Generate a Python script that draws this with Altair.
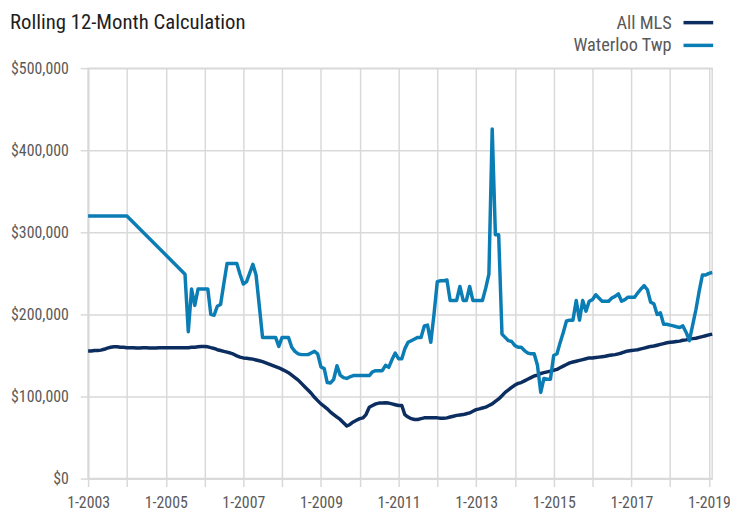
import altair as alt
import pandas as pd

# Monthly dates, Jan 2003 .. Feb 2019
months = pd.date_range("2003-01-01", "2019-02-01", freq="MS")

# All MLS rolling 12-month median price (thousands of $)
mls_values = [
    155.5, 155.5, 156, 156, 156.5, 157.5, 159, 160, 160.5, 160.5, 160, 160,          # 2003
    159.5, 159.5, 159.5, 159, 159, 159.5, 159.5, 159, 159, 159, 159.5, 159.5,        # 2004
    159.5, 159.5, 159.5, 159.5, 159.5, 159.5, 159.5, 159.5, 160, 160, 160.5, 161,    # 2005
    161, 160.5, 159.5, 158.5, 157, 156, 155, 154, 153, 151.5, 149.5, 148,            # 2006
    147, 146.5, 146, 145.5, 144.5, 143.5, 142.5, 141, 139.5, 138, 136.5, 135,        # 2007
    133, 131, 129, 126, 123, 120, 116, 112, 108, 104, 99, 95,                        # 2008
    91, 88, 85, 81, 78, 75, 72, 68, 64, 66, 69, 71,                                  # 2009
    73, 74, 78, 87, 89, 91, 92, 92, 92.5, 92, 91, 90,                                # 2010
    89, 89, 78, 75, 73, 72, 72, 73, 74, 74, 74, 74,                                  # 2011
    74, 73.5, 73.5, 74, 75, 76, 77, 77.5, 78, 79, 80, 82,                            # 2012
    84, 85, 86, 87, 89, 91, 94, 97, 101, 105, 108, 111,                              # 2013
    114, 116, 117, 119, 121, 123, 125, 126, 128, 129, 130, 131,                      # 2014
    132, 133, 135, 137, 139, 141, 142, 143, 144, 145, 146, 147,                      # 2015
    147, 147.5, 148, 148.5, 149, 150, 150.5, 151, 152, 153, 154.5, 155.5,            # 2016
    156, 156.5, 157, 158, 159, 160, 161, 161.5, 162.5, 163.5, 164.5, 165.5,          # 2017
    166, 166.5, 167, 167.5, 168.5, 169, 170, 170.5, 171, 172, 173, 174,              # 2018
    175, 176,                                                                        # 2019
]

# Waterloo Twp rolling 12-month median price (thousands of $); None = no data
waterloo_values = [
    320, 320, 320, 320, 320, 320, 320, 320, 320, 320, 320, 320,                      # 2003
    320, None, None, None, None, None, None, None, None, None, None, None,           # 2004
    None, None, None, None, None, None, 249, 179, 231, 211, 231, 231,                # 2005
    231, 231, 200, 199, 210, 212, 237, 262, 262, 262, 262, 249,                      # 2006
    237, 240, 250, 261, 248, 210, 172, 172, 172, 172, 172, 161,                      # 2007
    172, 172, 172, 160, 155, 152, 151, 151, 151, 153, 155, 152,                      # 2008
    136, 134, 117, 116.5, 121, 137.5, 126, 123, 122, 124, 125.5, 125.5,              # 2009
    125.5, 125.5, 125.5, 125.5, 130, 131.5, 131.5, 131.5, 138, 135.5, 145, 153,      # 2010
    146, 146, 158, 166, 168, 170, 172, 172, 186, 187, 166, 200,                      # 2011
    240, 241, 241, 242, 217, 217, 217, 234, 217, 217, 234, 217,                      # 2012
    217, 217, 217, 232, 249, 426, 297, 297, 176, 172, 168, 167,                      # 2013
    162, 160, 160, 156, 153, 152, 152, 138, 105, 122, 121, 121,                      # 2014
    150, 152, 165, 178, 192, 193, 193, 217, 193, 217, 204, 216,                      # 2015
    218, 224, 220, 216, 216, 216, 220, 222, 225, 216, 218, 221,                      # 2016
    221, 221, 226, 231, 235, 230, 215, 213, 200, 202, 188, 188,                      # 2017
    187, 186, 185, 184, 186, 178, 168, 187, 206, 228, 248, 248,                      # 2018
    250, 251,                                                                        # 2019
]

series_names = ["All MLS", "Waterloo Twp"]
series_colors = ["#0b2d5f", "#0b7db5"]
tick_years = list(range(2003, 2020))
y_ticks = [0, 100000, 200000, 300000, 400000, 500000]
title_text = "Rolling 12-Month Calculation"

rows = []
for d, v in zip(months, mls_values):
    rows.append({"date": d.strftime("%Y-%m-%dT00:00:00"), "series": series_names[0], "price": v * 1000})
for d, v in zip(months, waterloo_values):
    if v is not None:
        rows.append({"date": d.strftime("%Y-%m-%dT00:00:00"), "series": series_names[1], "price": v * 1000})
df = pd.DataFrame(rows)
legend_df = pd.DataFrame({"series": series_names})
title_df = pd.DataFrame({"title": [title_text]})

FONT = "Liberation Sans Narrow, Roboto Condensed, Arial Narrow, Roboto, sans-serif"
GRID = "#d9d9d9"
LABEL = "#595959"

color_scale = alt.Scale(domain=series_names, range=series_colors)

lines = alt.Chart(df).mark_line(strokeWidth=3.5, strokeJoin="round").encode(
    x=alt.X(
        "date:T",
        scale=alt.Scale(domain=[alt.DateTime(year=2003, month=1, date=1),
                                alt.DateTime(year=2019, month=2, date=1)]),
        axis=alt.Axis(
            title=None,
            values=[alt.DateTime(year=y, month=1, date=1) for y in tick_years],
            labelExpr="year(datum.value) % 2 == 1 ? '1-' + year(datum.value) : ''",
            grid=True,
            labelFlush=False,
            labelPadding=8,
        ),
    ),
    y=alt.Y(
        "price:Q",
        scale=alt.Scale(domain=[0, 500000], nice=False),
        axis=alt.Axis(title=None, values=y_ticks, format="$,.0f", labelPadding=12),
    ),
    color=alt.Color("series:N", scale=color_scale, legend=None),
)

# Legend (labels to the left of the line swatches, as in the reference)
legend_y = alt.Y(
    "series:N",
    scale=alt.Scale(type="point", domain=series_names, range=[-46, -23], padding=0),
    axis=None,
)
legend_swatches = alt.Chart(legend_df).mark_rule(strokeWidth=3.5).encode(
    x=alt.value(602),
    x2=alt.value(632),
    y=legend_y,
    color=alt.Color("series:N", scale=color_scale, legend=None),
)
legend_labels = alt.Chart(legend_df).mark_text(
    align="right", baseline="middle", font=FONT, fontSize=18.5, color=LABEL
).encode(
    x=alt.value(590),
    y=legend_y,
    text="series:N",
)

# Chart heading, top-left
heading = alt.Chart(title_df).mark_text(
    align="left", baseline="alphabetic", font=FONT, fontSize=21, color="#1e1e1e"
).encode(
    x=alt.value(-79),
    y=alt.value(-40),
    text="title:N",
)

chart = alt.layer(lines, legend_swatches, legend_labels, heading).resolve_scale(
    y="independent"
).properties(
    width=631,
    height=415,
    autosize=alt.AutoSizeParams(type="none"),
    padding={"left": 81, "top": 58, "right": 18, "bottom": 34},
).configure_view(
    stroke=GRID, strokeWidth=1.5
).configure_axis(
    gridColor=GRID,
    gridWidth=1.5,
    domainColor=GRID,
    domainWidth=1.5,
    tickColor=GRID,
    tickWidth=1.5,
    tickSize=8,
    labelFont=FONT,
    labelFontSize=16,
    labelColor=LABEL,
)

chart.save("out.html", embed_options={"renderer": "svg", "actions": False})
